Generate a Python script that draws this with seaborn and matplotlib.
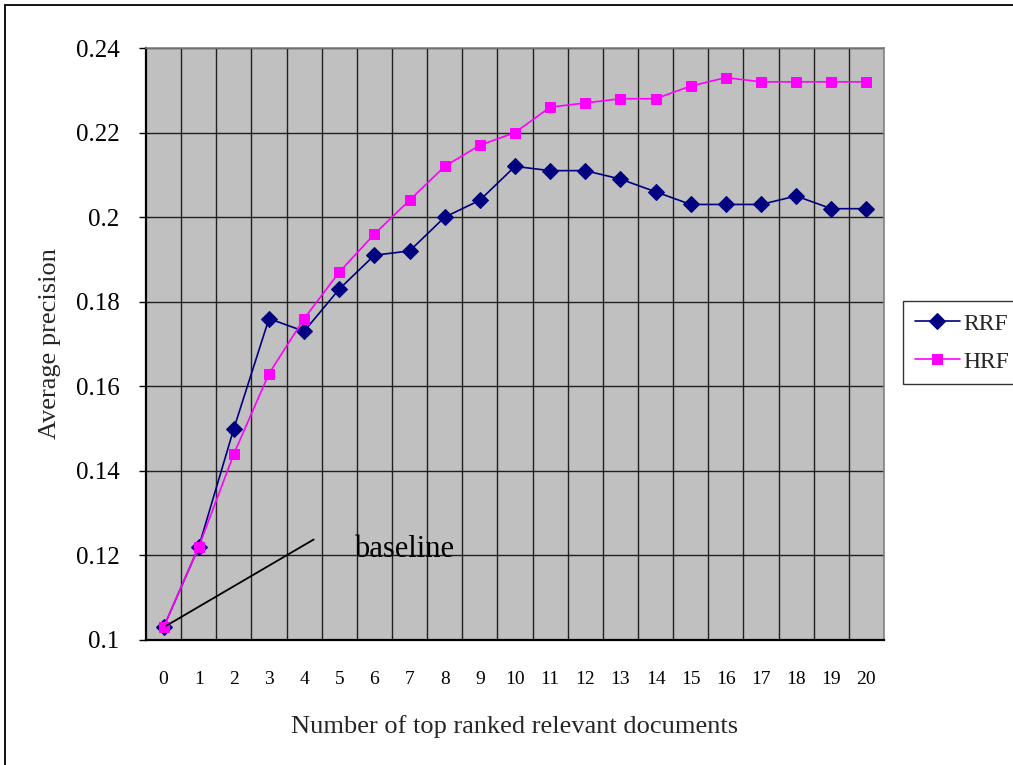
import matplotlib
matplotlib.use("Agg")
import matplotlib.pyplot as plt
import matplotlib.patches as mpatches
import seaborn as sns
import pandas as pd
import numpy as np

# ---- data ----
docs = list(range(0, 21))
rrf = [0.103, 0.122, 0.150, 0.176, 0.173, 0.183, 0.191, 0.192, 0.200, 0.204, 0.212,
       0.211, 0.211, 0.209, 0.206, 0.203, 0.203, 0.203, 0.205, 0.202, 0.202]
hrf = [0.103, 0.122, 0.144, 0.163, 0.176, 0.187, 0.196, 0.204, 0.212, 0.217, 0.220,
       0.226, 0.227, 0.228, 0.228, 0.231, 0.233, 0.232, 0.232, 0.232, 0.232]
ytick_vals = [0.10, 0.12, 0.14, 0.16, 0.18, 0.20, 0.22, 0.24]
ytick_labels = ["0.1", "0.12", "0.14", "0.16", "0.18", "0.2", "0.22", "0.24"]
xtick_labels = [str(d) for d in docs]
series_names = ["RRF", "HRF"]
x_title = "Number of top ranked relevant documents"
y_title = "Average precision"
note = "baseline"

sns.set_theme(style="white")
plt.rcParams['font.family'] = ['Liberation Serif', 'DejaVu Serif']

W, H = 1013, 765
fig = plt.figure(figsize=(W / 100, H / 100), dpi=100)
fig.patch.set_facecolor("white")
ax = fig.add_axes([146 / W, 1 - 640 / H, (884 - 146) / W, (640 - 48) / H])
ax.set_facecolor("#C0C0C0")

df = pd.DataFrame({"docs": docs, "RRF": rrf, "HRF": hrf})
sns.lineplot(data=df, x="docs", y="RRF", ax=ax, color="#000080", marker="D",
             markersize=8, markeredgecolor="#000080", linewidth=1.2, label=series_names[0],
             legend=False)
sns.lineplot(data=df, x="docs", y="HRF", ax=ax, color="#FF00FF", marker="s",
             markersize=7.5, markeredgecolor="#FF00FF", linewidth=1.2, label=series_names[1],
             legend=False)

ax.set_xlim(-0.5, len(docs) - 0.5)
ax.set_ylim(ytick_vals[0], ytick_vals[-1])
ax.set_xticks(docs)
ax.set_xticklabels(xtick_labels, fontsize=14)
ax.set_xticks([d + 0.5 for d in docs[:-1]], minor=True)
ax.set_yticks(ytick_vals)
ax.set_yticklabels(ytick_labels, fontsize=18)

ax.grid(False)
ax.xaxis.grid(True, which="minor", color="#202020", linewidth=1.0)
ax.yaxis.grid(True, which="major", color="#202020", linewidth=1.0)
ax.set_axisbelow(True)

ax.tick_params(axis="x", which="both", length=0, pad=22, colors="black")
ax.tick_params(axis="y", which="major", length=5, width=1, direction="out",
               left=True, pad=14, colors="black")

for s in ["left", "bottom"]:
    ax.spines[s].set_color("black")
    ax.spines[s].set_linewidth(1.6)
for s in ["top", "right"]:
    ax.spines[s].set_color("#808080")
    ax.spines[s].set_linewidth(1.2)

ax.set_xlabel(x_title, fontsize=19, labelpad=20)
ax.set_ylabel(y_title, fontsize=19, labelpad=11)

# baseline annotation
ax.annotate("", xy=(docs[0], rrf[0]), xytext=(4.34, 0.1241),
            arrowprops=dict(arrowstyle="-", color="black", linewidth=1.3))
ax.text(6.84, 0.1213, note, fontsize=22, ha="center", va="center", color="black")

# legend (touching the right edge, as in the reference)
handles, labels = ax.get_legend_handles_labels()
leg = fig.legend(handles, labels, loc="upper left",
                 bbox_to_anchor=(903 / W, 1 - 301 / H), fontsize=17,
                 frameon=True, fancybox=False, edgecolor="black",
                 handlelength=1.9, handletextpad=0.15, borderaxespad=0,
                 borderpad=0.5, labelspacing=0.65, handleheight=0.8)
leg.get_frame().set_linewidth(1.0)

# chart-area border (extends beyond the crop on right/bottom)
border = mpatches.Rectangle((5 / W, -0.2), 1.5, 1 - 5 / H + 0.2,
                            transform=fig.transFigure, fill=False,
                            edgecolor="black", linewidth=1.3)
fig.patches.append(border)

fig.savefig("out.png", dpi=100)
